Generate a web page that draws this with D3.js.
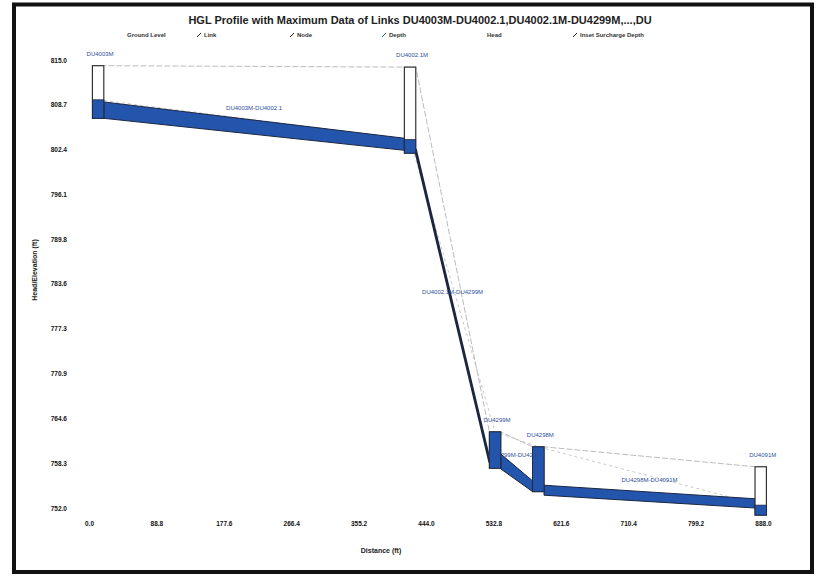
<!DOCTYPE html>
<html>
<head>
<meta charset="utf-8">
<script src="https://cdn.jsdelivr.net/npm/d3@7"></script>
<style>
  body { margin: 0; background: #fff; }
  text { font-family: "Liberation Sans", Arial, sans-serif; }
</style>
</head>
<body>
<div id="chart-area"></div>
<script>
// values
var xTickLabels = ["0.0", "88.8", "177.6", "266.4", "355.2", "444.0", "532.8", "621.6", "710.4", "799.2", "888.0"];
var yTickLabels = ["815.0", "808.7", "802.4", "796.1", "789.8", "783.6", "777.3", "770.9", "764.6", "758.3", "752.0"];

var nodeNames   = ["DU4003M", "DU4002.1M", "DU4299M", "DU4298M", "DU4091M"];
var nodeStation = [12, 423, 535, 592, 885];
var nodeGround  = [814.2, 814.0, 762.7, 760.6, 757.8];
var nodeInvert  = [806.8, 801.9, 757.6, 754.3, 751.0];
var nodeHead    = [809.4, 803.8, 762.7, 760.6, 752.4];

var linkNames    = ["DU4003M-DU4002.1", "DU4002.1M-DU4299M", "DU4299M-DU4298M", "DU4298M-DU4091M"];
var linkUpInvert = [806.8, 802.0, 757.5, 753.8];
var linkDnInvert = [802.3, 758.5, 754.3, 752.0];
var linkUpHead   = [809.1, 802.4, 759.6, 755.2];
var linkDnHead   = [804.0, 758.9, 755.8, 753.3];

var legendNames = ["Ground Level", "Link", "Node", "Depth", "Head", "Inset Surcharge Depth"];

var W = 817, H = 578;
var blue = "#2455ad", labelBlue = "#2d4f9c";
var nodeW = 15; // ft

var svg = d3.select("#chart-area")
    .append("svg")
        .attr("width", W)
        .attr("height", H);

// scanned page frame
svg.append("rect")
    .attr("x", 14).attr("y", 4.5)
    .attr("width", 798).attr("height", 567.5)
    .attr("fill", "none")
    .attr("stroke", "#111")
    .attr("stroke-width", 4);

var x = d3.scaleLinear().domain([0, 888]).range([89, 763]);
var y = d3.scaleLinear().domain([752, 815]).range([508, 60]);

// title
svg.append("text")
    .attr("x", 420).attr("y", 24)
    .attr("text-anchor", "middle")
    .attr("font-size", "11px")
    .attr("font-weight", "bold")
    .attr("fill", "#222")
    .text("HGL Profile with Maximum Data of Links DU4003M-DU4002.1,DU4002.1M-DU4299M,...,DU");

// legend
var legendX = [127, 197, 290, 382, 487, 573];
var legendIcon = [false, true, true, true, false, true];
var legend = svg.selectAll(".legend")
    .data(legendNames)
    .enter().append("g")
        .attr("class", "legend")
        .attr("transform", function(d, i){ return "translate(" + legendX[i] + ",37)"; });
legend.filter(function(d, i){ return legendIcon[i]; })
    .append("line")
        .attr("x1", 0).attr("y1", 0).attr("x2", 4).attr("y2", -4)
        .attr("stroke", function(d){ return d === "Depth" ? blue : "#222"; })
        .attr("stroke-width", 1);
legend.append("text")
    .attr("x", function(d, i){ return legendIcon[i] ? 7 : 0; })
    .attr("font-size", "6px")
    .attr("font-weight", "bold")
    .attr("fill", "#333")
    .text(function(d){ return d; });

// axes
var xAxis = svg.append("g")
    .attr("transform", "translate(0,518)")
    .call(d3.axisBottom(x)
        .tickValues(xTickLabels.map(Number))
        .tickSize(0)
        .tickFormat(function(d, i){ return xTickLabels[i]; }));
var yAxis = svg.append("g")
    .attr("transform", "translate(70,0)")
    .call(d3.axisLeft(y)
        .tickValues(yTickLabels.map(Number))
        .tickSize(0)
        .tickFormat(function(d, i){ return yTickLabels[i]; }));
[xAxis, yAxis].forEach(function(a){
    a.select(".domain").remove();
    a.selectAll("text")
        .attr("font-family", "Liberation Sans, Arial, sans-serif")
        .attr("font-size", "6.5px")
        .attr("font-weight", "bold")
        .attr("fill", "#111");
});

svg.append("text")
    .attr("x", 381).attr("y", 553)
    .attr("text-anchor", "middle")
    .attr("font-size", "7px")
    .attr("font-weight", "bold")
    .attr("fill", "#222")
    .text("Distance (ft)");
svg.append("text")
    .attr("transform", "translate(37,270) rotate(-90)")
    .attr("text-anchor", "middle")
    .attr("font-size", "7px")
    .attr("font-weight", "bold")
    .attr("fill", "#222")
    .text("Head/Elevation (ft)");

// link geometry: from upstream node right edge to downstream node left edge
var links = linkNames.map(function(name, i){
    return {
        name: name,
        x0: nodeStation[i] + nodeW / 2,
        x1: nodeStation[i + 1] - nodeW / 2,
        inv0: linkUpInvert[i], inv1: linkDnInvert[i],
        hd0: linkUpHead[i], hd1: linkDnHead[i]
    };
});

// ground level and head lines (faint)
var groundPts = [], headPts = [];
nodeNames.forEach(function(n, i){
    groundPts.push([nodeStation[i] - nodeW / 2, nodeGround[i]], [nodeStation[i] + nodeW / 2, nodeGround[i]]);
    headPts.push([nodeStation[i], nodeHead[i]]);
});
var line = d3.line()
    .x(function(d){ return x(d[0]); })
    .y(function(d){ return y(d[1]); });
svg.append("path")
    .attr("d", line(groundPts))
    .attr("fill", "none")
    .attr("stroke", "#aaa")
    .attr("stroke-width", 0.8)
    .attr("stroke-dasharray", "6,2");
svg.append("path")
    .attr("d", line(headPts))
    .attr("fill", "none")
    .attr("stroke", "#bbb")
    .attr("stroke-width", 0.8)
    .attr("stroke-dasharray", "3,3");

// link depth bands
svg.selectAll(".link")
    .data(links)
    .enter().append("path")
        .attr("class", "link")
        .attr("d", function(d){
            return line([[d.x0, d.inv0], [d.x1, d.inv1], [d.x1, d.hd1], [d.x0, d.hd0]]) + "Z";
        })
        .attr("fill", blue)
        .attr("stroke", "#1b2740")
        .attr("stroke-width", function(d, i){ return i === 1 ? 2.2 : 1; })
        .attr("stroke-linejoin", "round");

// nodes
var nodes = svg.selectAll(".node")
    .data(nodeNames)
    .enter().append("g")
        .attr("class", "node");
nodes.append("rect")
    .attr("x", function(d, i){ return x(nodeStation[i] - nodeW / 2); })
    .attr("y", function(d, i){ return y(nodeGround[i]); })
    .attr("width", x(nodeW) - x(0))
    .attr("height", function(d, i){ return y(nodeInvert[i]) - y(nodeGround[i]); })
    .attr("fill", "#fff")
    .attr("stroke", "#333")
    .attr("stroke-width", 1.2);
nodes.append("rect")
    .attr("x", function(d, i){ return x(nodeStation[i] - nodeW / 2); })
    .attr("y", function(d, i){ return y(Math.min(nodeHead[i], nodeGround[i])); })
    .attr("width", x(nodeW) - x(0))
    .attr("height", function(d, i){ return y(nodeInvert[i]) - y(Math.min(nodeHead[i], nodeGround[i])); })
    .attr("fill", blue)
    .attr("stroke", "#1b2740")
    .attr("stroke-width", 0.8);
nodes.append("text")
    .attr("x", function(d, i){ return x(nodeStation[i]) + 2; })
    .attr("y", function(d, i){ return y(nodeGround[i]) - 10; })
    .attr("text-anchor", "middle")
    .attr("font-size", "6px")
    .attr("fill", labelBlue)
    .text(function(d){ return d; });

// link labels
svg.selectAll(".link-label")
    .data(links)
    .enter().append("text")
        .attr("class", "link-label")
        .attr("x", function(d){ return x((d.x0 + d.x1) / 2); })
        .attr("y", function(d){ return y((d.hd0 + d.hd1) / 2) - 10; })
        .attr("text-anchor", "middle")
        .attr("font-size", "6px")
        .attr("fill", labelBlue)
        .text(function(d){ return d.name; });
</script>
</body>
</html>
